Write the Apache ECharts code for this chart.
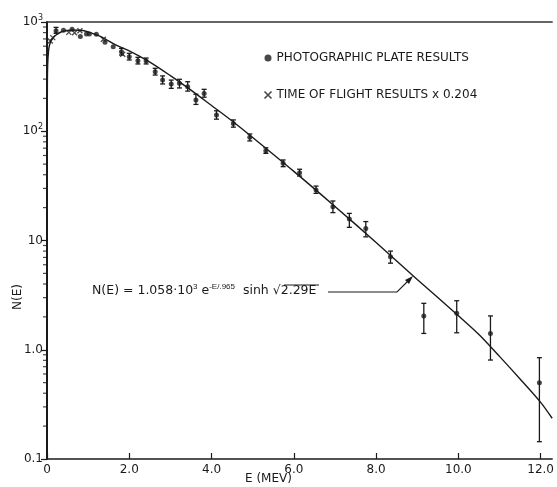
<!DOCTYPE html>
<html>
<head>
<meta charset="utf-8">
<script src="https://cdn.jsdelivr.net/npm/echarts@6/dist/echarts.min.js"></script>
<style>
  html, body { margin: 0; padding: 0; background: #fff; }
  #chart { width: 557px; height: 487px; }
</style>
</head>
<body>
<div id="chart"></div>
<script>
// fitted curve N(E)
const curveE = [0.001, 0.004, 0.008, 0.015, 0.04, 0.08, 0.15, 0.22, 0.34, 0.46, 0.62, 0.86, 1.1, 1.27, 1.43, 1.67,
  2.0, 2.5, 3.0, 3.5, 4.0, 4.5, 5.0, 6.0, 7.0, 8.0, 9.0, 10.0, 10.5, 11.0, 11.5, 12.0, 12.28];
const curveN = [0.1, 20, 200, 390, 555, 650, 715, 760, 810, 832, 845, 836, 788, 745, 695, 616,
  545, 430, 323, 238, 172, 124, 87.6, 42.9, 20.5, 9.6, 4.4, 2.05, 1.38, 0.87, 0.54, 0.33, 0.236];

// photographic plate results
const plateE = [0.22, 0.40, 0.61, 0.81, 0.96, 1.03, 1.20, 1.41, 1.61, 1.81, 2.00, 2.21, 2.41, 2.63, 2.81, 3.02,
  3.22, 3.42, 3.62, 3.82, 4.12, 4.53, 4.93, 5.32, 5.74, 6.14, 6.54, 6.95, 7.35, 7.75, 8.35, 9.16, 9.96, 10.78, 11.97];
const plateN = [830, 840, 857, 735, 777, 775, 771, 652, 594, 535, 481, 443, 440, 351, 294, 271,
  275, 256, 193, 222, 141, 118, 88, 66.4, 50.9, 41.7, 29.0, 20.4, 15.7, 12.9, 7.1, 2.04, 2.16, 1.41, 0.50];

// error bars: [E, low, high]
const errorBars = [
  [0.22, 788, 893], [1.81, 499, 574], [2.00, 449, 517], [2.21, 413, 475], [2.41, 413, 468],
  [2.63, 327, 377], [2.81, 271, 321], [3.02, 247, 294], [3.22, 249, 299], [3.42, 233, 284],
  [3.62, 176, 218], [3.82, 205, 242], [4.12, 129, 154], [4.53, 109, 127], [4.93, 81.5, 94.4],
  [5.32, 62.8, 70.6], [5.74, 47.4, 54.6], [6.14, 38.9, 44.9], [6.54, 27.0, 31.5], [6.95, 18.0, 23.0],
  [7.35, 13.2, 17.7], [7.75, 10.8, 14.9], [8.35, 6.2, 8.0], [9.16, 1.41, 2.66], [9.96, 1.43, 2.81],
  [10.78, 0.805, 2.04], [11.97, 0.144, 0.846]
];

// time of flight results (x 0.204)
const tofE = [0.08, 0.14, 0.53, 0.67, 0.80, 1.37, 1.84];
const tofN = [670, 720, 804, 798, 832, 695, 506];

// axis ticks
const xTicks = [0, 2, 4, 6, 8, 10, 12];
const yMinorMantissa = [2, 3, 4, 5, 6, 7, 8, 9];
const yDecades = [0.1, 1, 10, 100];

const ink = '#1a1a1a';
const crossPath = 'path://M0,0L10,10M10,0L0,10';
const plateName = 'PHOTOGRAPHIC PLATE RESULTS';
const tofName = 'TIME OF FLIGHT RESULTS x 0.204';

const minorTicks = [];
yDecades.forEach(d => yMinorMantissa.forEach(m => minorTicks.push([0, d * m])));

const chart = echarts.init(document.getElementById('chart'));

const yLabel = v => {
  if (v < 0.5) return '0.1';
  if (v < 5) return '1.0';
  if (v < 50) return '10';
  if (v < 500) return '10{s|2}';
  return '10{s|3}';
};

const option = {
  animation: false,
  textStyle: { fontFamily: 'DejaVu Sans' },
  grid: { left: 47, right: 0, top: 22, bottom: 28 },
  legend: {
    orient: 'vertical',
    left: 257,
    top: 47,
    itemGap: 25,
    itemWidth: 7,
    itemHeight: 7,
    textStyle: { fontSize: 12, color: ink },
    data: [
      { name: plateName, icon: 'circle', itemStyle: { color: ink } },
      { name: tofName, icon: crossPath, itemStyle: { color: 'none', borderColor: ink, borderWidth: 1.6 } }
    ]
  },
  xAxis: [
    {
      type: 'value',
      min: 0,
      max: 12.28,
      interval: 2,
      splitLine: { show: false },
      axisLine: { lineStyle: { color: ink, width: 1.5 } },
      axisTick: { inside: true, length: 6, lineStyle: { color: ink, width: 1.2 } },
      axisLabel: {
        color: ink,
        fontSize: 12,
        margin: 5,
        showMaxLabel: false,
        formatter: v => (xTicks.indexOf(v) < 0 ? '' : (v === 0 ? '0' : v.toFixed(1)))
      }
    },
    {
      type: 'value',
      position: 'top',
      min: 0,
      max: 12.28,
      axisLine: { show: true, onZero: false, lineStyle: { color: '#333', width: 1.5 } },
      axisTick: { show: false },
      axisLabel: { show: false },
      splitLine: { show: false }
    }
  ],
  yAxis: {
    type: 'log',
    logBase: 10,
    min: 0.1,
    max: 1000,
    splitLine: { show: false },
    axisLine: { show: true, lineStyle: { color: ink, width: 2 } },
    axisTick: { length: 6, lineStyle: { color: ink, width: 1.2 } },
    axisLabel: {
      color: ink,
      fontSize: 12,
      margin: 4,
      formatter: yLabel,
      rich: { s: { fontSize: 8, padding: [0, 0, 9, 0], color: ink } }
    }
  },
  series: [
    {
      name: 'minor ticks',
      type: 'scatter',
      silent: true,
      clip: false,
      symbol: 'rect',
      symbolSize: [4, 1.2],
      symbolOffset: [-2, 0],
      itemStyle: { color: ink },
      data: minorTicks
    },
    {
      name: 'fit',
      type: 'line',
      smooth: 0.3,
      showSymbol: false,
      silent: true,
      lineStyle: { color: ink, width: 1.4 },
      data: curveE.map((e, i) => [e, curveN[i]])
    },
    {
      name: 'errors',
      type: 'custom',
      silent: true,
      data: errorBars,
      renderItem: (params, api) => {
        const top = api.coord([api.value(0), api.value(2)]);
        const bot = api.coord([api.value(0), api.value(1)]);
        const w = 2.5;
        const style = { stroke: ink, lineWidth: 1.3 };
        return {
          type: 'group',
          children: [
            { type: 'line', shape: { x1: top[0], y1: top[1], x2: bot[0], y2: bot[1] }, style },
            { type: 'line', shape: { x1: top[0] - w, y1: top[1], x2: top[0] + w, y2: top[1] }, style },
            { type: 'line', shape: { x1: bot[0] - w, y1: bot[1], x2: bot[0] + w, y2: bot[1] }, style }
          ]
        };
      }
    },
    {
      name: plateName,
      type: 'scatter',
      symbol: 'circle',
      symbolSize: 5,
      itemStyle: { color: ink },
      data: plateE.map((e, i) => [e, plateN[i]])
    },
    {
      name: tofName,
      type: 'scatter',
      symbol: crossPath,
      symbolSize: 5,
      itemStyle: { color: 'none', borderColor: ink, borderWidth: 1.3 },
      data: tofE.map((e, i) => [e, tofN[i]])
    }
  ],
  graphic: [
    {
      type: 'text',
      left: 245,
      top: 473,
      style: { text: 'E (MEV)', fontSize: 12, fill: ink, fontFamily: 'DejaVu Sans' }
    },
    {
      type: 'text',
      x: 12,
      y: 310,
      rotation: Math.PI / 2,
      style: { text: 'N(E)', fontSize: 12, fill: ink, fontFamily: 'DejaVu Sans' }
    },
    {
      type: 'text',
      left: 92,
      top: 283,
      style: {
        text: 'N(E) = 1.058·10{s|3} e{s|-E/.965}  sinh √2.29E',
        fontSize: 12.5,
        fill: ink,
        fontFamily: 'DejaVu Sans',
        rich: { s: { fontSize: 8, padding: [0, 0, 8, 0], fill: ink } }
      }
    },
    // overline of the square root
    {
      type: 'line',
      shape: { x1: 284, y1: 285, x2: 319, y2: 285 },
      style: { stroke: ink, lineWidth: 1 }
    },
    {
      type: 'polyline',
      shape: { points: [[328, 292], [397, 292], [410, 279]] },
      style: { stroke: ink, lineWidth: 1.1, fill: 'none' }
    },
    {
      type: 'polygon',
      shape: { points: [[413, 276], [405, 280], [409, 284]] },
      style: { fill: ink }
    }
  ]
};

chart.setOption(option);
</script>
</body>
</html>
